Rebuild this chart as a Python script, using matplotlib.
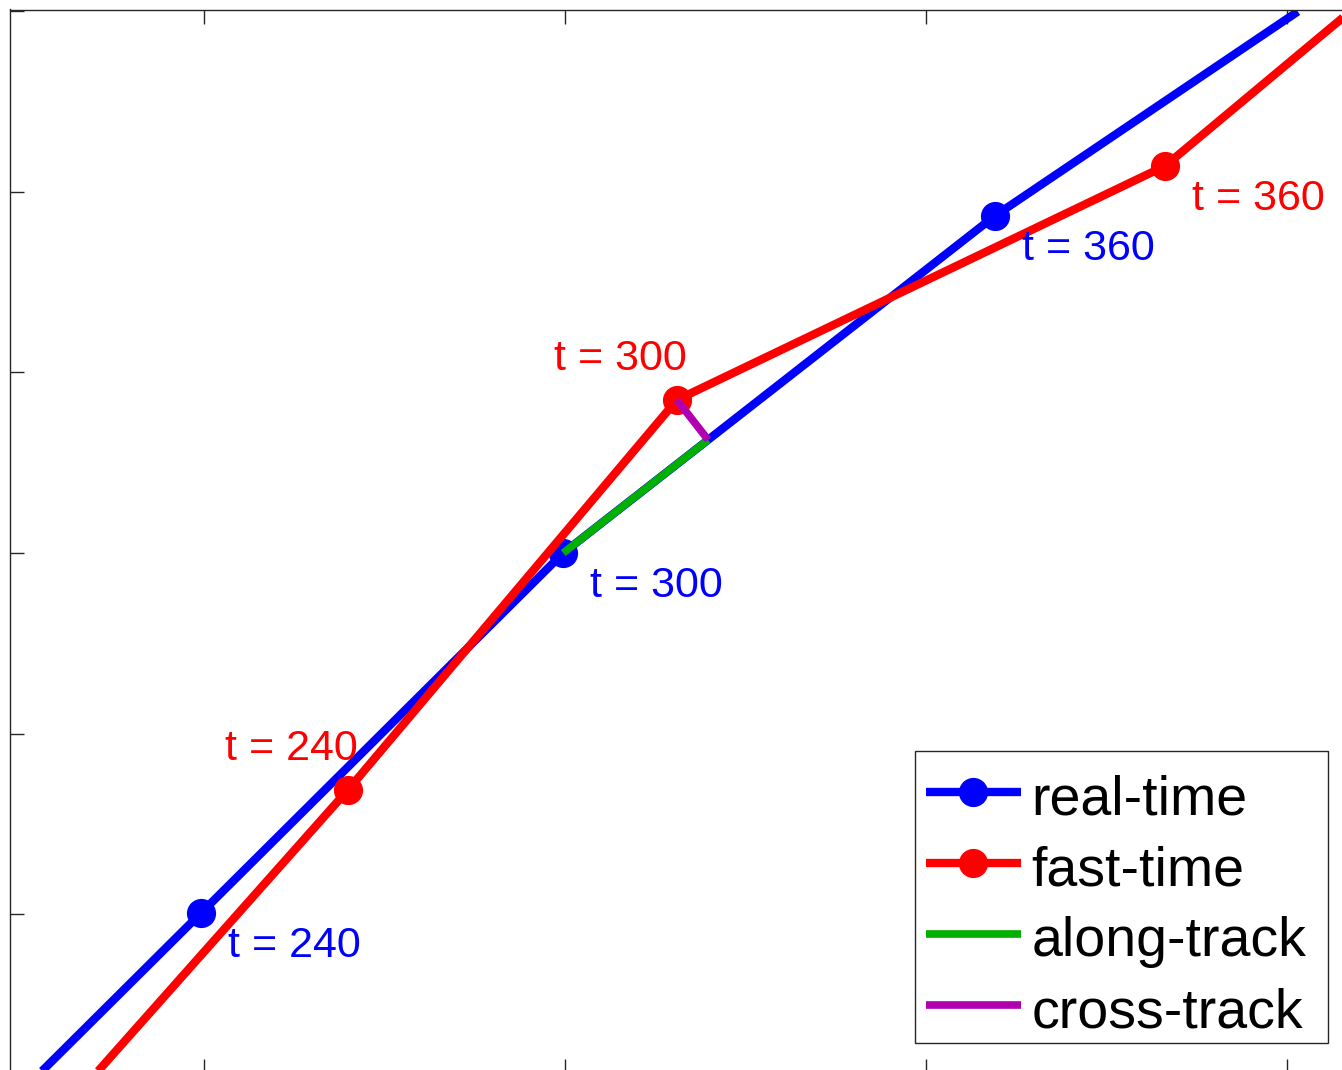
import numpy as np
import matplotlib.pyplot as plt
from matplotlib.patches import Rectangle

plt.rcParams['font.family'] = ['Liberation Sans', 'DejaVu Sans']

# track vertices (km); markers sit on the inner three (every 60 s)
real_x = [-0.011, 0.992, 1.995, 3.191, 4.030]
real_y = [-0.994, 0.003, 1.000, 1.934, 2.500]
fast_x = [0.601, 1.399, 2.310, 3.662, 4.313]
fast_y = [-0.554, 0.344, 1.424, 2.072, 2.615]
mark_idx = [1, 2, 3]
mark_t = [240, 300, 360]

# label placement: 'br' = below right, 'al' = above left
real_lab_pos = ['br', 'br', 'br']
fast_lab_pos = ['al', 'al', 'br']

# along/cross-track split of the fast-time point at t = 300
p0 = np.array([real_x[2], real_y[2]])
p1 = np.array([real_x[3], real_y[3]])
q = np.array([fast_x[2], fast_y[2]])
d = p1 - p0
foot = p0 + d * np.dot(q - p0, d) / np.dot(d, d)

W, H = 1342, 1070
fig = plt.figure(figsize=(W / 100, H / 100), dpi=100)
# axes box runs off the right and bottom edges of the picture
left, right, top, bottom = 10, 1375, 9.5, 1073
ax = fig.add_axes([left / W, 1 - bottom / H, (right - left) / W, (bottom - top) / H])

ax.plot(real_x, real_y, '-o', color='b', lw=6, ms=20, markevery=mark_idx,
        solid_capstyle='butt', label='real-time')
ax.plot(fast_x, fast_y, '-o', color='r', lw=6, ms=20, markevery=mark_idx,
        solid_capstyle='butt', label='fast-time')
ax.plot([p0[0], foot[0]], [p0[1], foot[1]], color=(0, 0.69, 0), lw=5.5,
        solid_capstyle='butt', label='along-track')
ax.plot([q[0], foot[0]], [q[1], foot[1]], color=(0.69, 0, 0.69), lw=5.5,
        solid_capstyle='butt', label='cross-track')

offsets = {'br': (19.5, -31.5), 'al': (-88.5, 21.5)}
for xs, ys, pos, col in [(real_x, real_y, real_lab_pos, 'b'),
                         (fast_x, fast_y, fast_lab_pos, 'r')]:
    for i, t, p in zip(mark_idx, mark_t, pos):
        ax.annotate(f't = {t}', (xs[i], ys[i]), xytext=offsets[p],
                    textcoords='offset points', color=col, fontsize=31,
                    ha='left', va='baseline')

# equal scale: 361 px per unit
ax.set_xlim(1 + (left - 204) / 361, 1 + (right - 204) / 361)
ax.set_ylim((914 - bottom) / 361, (914 - top) / 361)
ax.set_xticks([1, 2, 3, 4])
ax.set_yticks([0, 0.5, 1, 1.5, 2, 2.5])
ax.set_xticklabels([])
ax.set_yticklabels([])
ax.tick_params(direction='in', length=10, width=1, color='0.15',
               top=True, right=True)
for s in ax.spines.values():
    s.set_color('0.15')
    s.set_linewidth(1)

# legend entries without frame, box drawn separately (MATLAB-style padding)
leg = ax.legend(loc='upper left', bbox_to_anchor=(915 / W, 1 - 758 / H),
                bbox_transform=fig.transFigure, fontsize=40, borderaxespad=0,
                borderpad=0.2, labelspacing=0.24, handlelength=1.7,
                handleheight=1.1, handletextpad=0.2, frameon=False)
leg.set_zorder(6)
ax.add_patch(Rectangle((915 / W, 1 - 1043 / H), (1328 - 915) / W,
                       (1043 - 751) / H, transform=fig.transFigure,
                       facecolor='white', edgecolor='0.15', lw=1,
                       zorder=5.5, clip_on=False))

fig.savefig('out.png', dpi=100)
